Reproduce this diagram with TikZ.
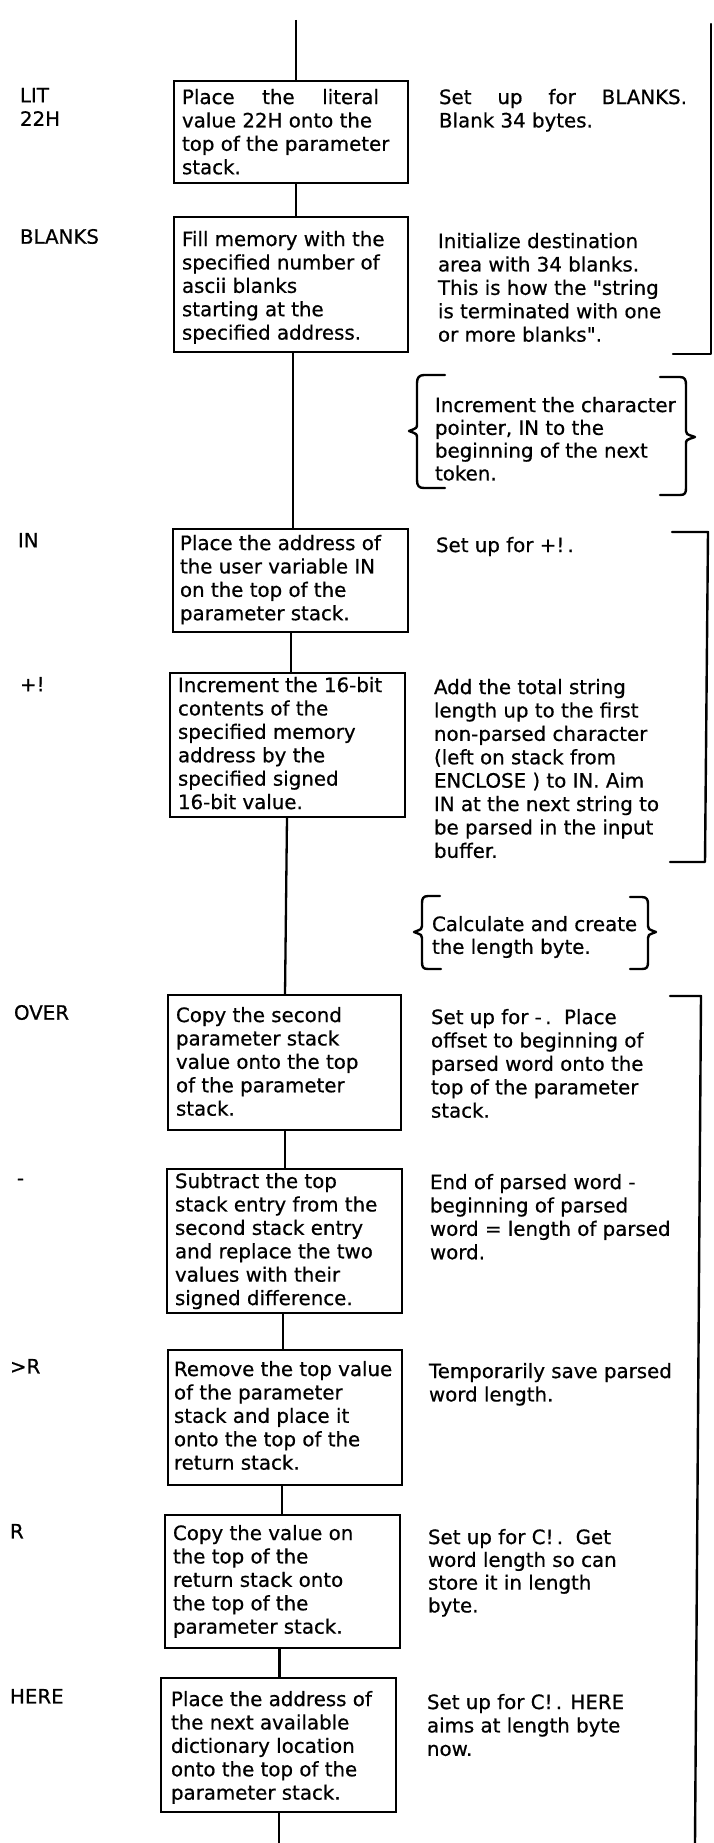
\documentclass[tikz,border=0pt]{standalone}
\usepackage{fontspec}
\setmainfont[FakeBold=0.6]{DejaVu Sans}
\newfontfamily\qfont[FakeBold=0.6]{DejaVu Sans}
\newcommand\sq{{\qfont"}}
\begin{document}
\begin{tikzpicture}[x=1pt,y=-1pt,
  txt/.style={anchor=north west, inner sep=0pt, outer sep=0pt, align=left, font=\fontsize{19.8}{23.4}\selectfont},
  bracetxt/.style={txt, font=\fontsize{19.8}{22.8}\selectfont},
  stepbox/.style={draw, line width=2.4pt, rectangle, inner sep=0pt, outer sep=0pt, anchor=north west},
  link/.style={line width=2.3pt},
  brk/.style={line width=2.4pt, line join=round, line cap=round}]
\fill[white] (0,0) rectangle (713,1843);
\useasboundingbox (0,0) rectangle (713,1843);

% ---------- boxes ----------
\node[stepbox, minimum width=234pt, minimum height=102pt] (b1) at (174,81) {};
\node[stepbox, minimum width=234pt, minimum height=135pt] (b2) at (174,217) {};
\node[stepbox, minimum width=235pt, minimum height=103pt] (b3) at (173,529) {};
\node[stepbox, minimum width=235pt, minimum height=144pt] (b4) at (170,673) {};
\node[stepbox, minimum width=233pt, minimum height=135pt] (b5) at (168,995) {};
\node[stepbox, minimum width=235pt, minimum height=144pt] (b6) at (167,1169) {};
\node[stepbox, minimum width=234pt, minimum height=135pt] (b7) at (168,1350) {};
\node[stepbox, minimum width=235pt, minimum height=133pt] (b8) at (165,1515) {};
\node[stepbox, minimum width=235pt, minimum height=134pt] (b9) at (161,1678) {};

% ---------- connectors ----------
\coordinate (top) at (296,20);
\coordinate (bot) at (279,1843);
\draw[link] (top) -- (top |- b1.north);
\draw[link] ([xshift=5pt]b1.south) -- ([xshift=5pt]b2.north);
\draw[link] ([xshift=2pt]b2.south) -- ([xshift=2.5pt]b3.north);
\draw[link] ([xshift=0.5pt]b3.south) -- ([xshift=3.5pt]b4.north);
\draw[link] ([xshift=-0.5pt]b4.south) -- ([xshift=0.5pt]b5.north);
\draw[link] ([xshift=0.5pt]b5.south) -- ([xshift=0.5pt]b6.north);
\draw[link] ([xshift=-1.5pt]b6.south) -- ([xshift=-2pt]b7.north);
\draw[link] ([xshift=-3pt]b7.south) -- ([xshift=-0.5pt]b8.north);
\draw[link] ([xshift=-3pt]b8.south) -- ([xshift=1pt]b9.north);
\draw[link] (b9.south -| bot) -- (bot);

% ---------- left labels ----------
\node[txt] (l1) at (20,88) {LIT\\22H};
\node[txt] (l2) at (20,229) {BLANKS};
\node[txt] (l3) at (18,533) {IN};
\node[txt] (l4) at (20,677) {+!};
\node[txt] (l5) at (14,1005) {OVER};
\node[txt, anchor=base west] (l6) at (17,1185) {-};
\node[txt] (l7) at (10,1359) {>R};
\node[txt] (l8) at (10,1524) {R};
\node[txt] (l9) at (10,1689) {HERE};

% ---------- box texts ----------
\node[txt] (t1) at (182,89) {\makebox[197pt][s]{Place the literal}\\value 22H onto the\\top of the parameter\\stack.};
\node[txt] (t2) at (182,231) {Fill memory with the\\specified number of\\ascii blanks\\starting at the\\specified address.};
\node[txt] (t3) at (180,535) {Place the address of\\the user variable IN\\on the top of the\\parameter stack.};
\node[txt] (t4) at (178,677) {Increment the 16-bit\\contents of the\\specified memory\\address by the\\specified signed\\16-bit value.};
\node[txt] (t5) at (176,1007) {Copy the second\\parameter stack\\value onto the top\\of the parameter\\stack.};
\node[txt] (t6) at (175,1173) {Subtract the top\\stack entry from the\\second stack entry\\and replace the two\\values with their\\signed difference.};
\node[txt] (t7) at (174,1361) {Remove the top value\\of the parameter\\stack and place it\\onto the top of the\\return stack.};
\node[txt] (t8) at (173,1525) {Copy the value on\\the top of the\\return stack onto\\the top of the\\parameter stack.};
\node[txt] (t9) at (171,1691) {Place the address of\\the next available\\dictionary location\\onto the top of the\\parameter stack.};

% ---------- right texts ----------
\node[txt] (r1) at (439,89) {\makebox[248pt][s]{Set up for BLANKS.}\\Blank 34 bytes.};
\node[txt] (r2) at (438,233) {Initialize destination\\area with 34 blanks.\\This is how the \sq string\\is terminated with one\\or more blanks\sq.};
\node[bracetxt] (k1) at (435,397) {Increment the character\\pointer, IN to the\\beginning of the next\\token.};
\node[txt] (r3) at (436,537) {Set up for +!\,.};
\node[txt] (r4) at (434,679) {Add the total string\\length up to the first\\non-parsed character\\(left on stack from\\ENCLOSE ) to IN. Aim\\IN at the next string to\\be parsed in the input\\buffer.};
\node[bracetxt] (k2) at (432,916) {Calculate and create\\the length byte.};
\node[txt] (r5) at (431,1009) {Set up for -\,.\ \ Place\\offset to beginning of\\parsed word onto the\\top of the parameter\\stack.};
\node[txt] (r6) at (430,1174) {End of parsed word -\\beginning of parsed\\word = length of parsed\\word.};
\node[txt] (r7) at (429,1363) {Temporarily save parsed\\word length.};
\node[bracetxt] (r8) at (428,1529) {Set up for C!\,.\ \ Get\\word length so can\\store it in length\\byte.};
\node[txt] (r9) at (427,1694) {Set up for C!\,. HERE\\aims at length byte\\now.};

% ---------- right-hand brackets ----------
\draw[brk] (711,24) -- (711,354) -- (673,354);
\draw[brk] (672,532) -- (708,532) -- (705,862) -- (670,862);
\draw[brk] (670,996) -- (701,996) -- (695,1843);

% ---------- braces ----------
\draw[brk] (445,375) -- (424,375) .. controls (419,375) and (417,378) .. (417,383)
  -- (417,424) .. controls (417,428) .. (409,431) .. controls (417,434) .. (417,438)
  -- (417,480) .. controls (417,486) and (419,488) .. (424,488) -- (445,488);
\draw[brk] (660,377) -- (680,377) .. controls (685,377) and (686,380) .. (686,385)
  -- (686,431) .. controls (686,434) .. (695,437) .. controls (686,440) .. (686,444)
  -- (686,488) .. controls (686,493) and (685,495) .. (680,495) -- (660,495);
\draw[brk] (440,896) -- (428,896) .. controls (423,896) and (422,899) .. (422,903)
  -- (422,926) .. controls (422,929) .. (414,932) .. controls (422,935) .. (422,938)
  -- (422,962) .. controls (422,967) and (423,969) .. (428,969) -- (441,969);
\draw[brk] (630,897) -- (642,897) .. controls (647,897) and (648,900) .. (648,904)
  -- (648,926) .. controls (648,929) .. (656,932) .. controls (648,935) .. (648,938)
  -- (648,962) .. controls (648,967) and (647,969) .. (642,969) -- (630,969);
\end{tikzpicture}
\end{document}
